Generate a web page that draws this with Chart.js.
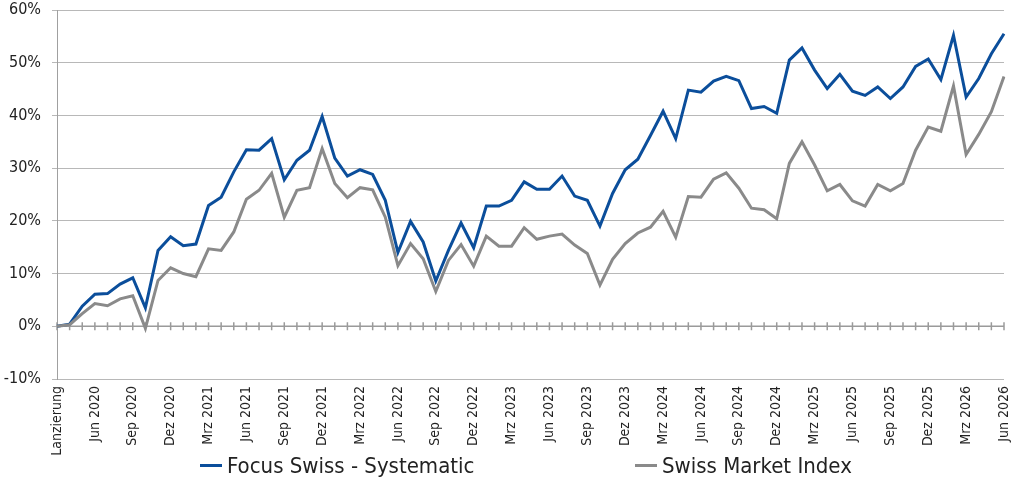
<!DOCTYPE html>
<html lang="de">
<head>
  <meta charset="UTF-8">
  <title>Focus Swiss - Systematic vs. SMI</title>
  <script src="https://cdn.jsdelivr.net/npm/chart.js"></script>
  <style>
    body {
      margin: 0;
      background: #fff;
      font-family: "Liberation Sans Narrow", "DejaVu Sans Condensed", sans-serif;
    }
    #wrap {
      position: relative;
      width: 1024px;
      height: 485px;
    }
    .legendItem {
      position: absolute;
      top: 453px;
      font-size: 22px;
      color: #222;
      white-space: nowrap;
      display: flex;
      align-items: center;
    }
    .legendItem span.sample {
      display: inline-block;
      width: 22px;
      height: 3px;
      margin-right: 5px;
    }
  </style>
</head>
<body>
  <div id="wrap">
    <canvas id="chart"></canvas>
    <div class="legendItem" id="leg0" style="left:200px"></div>
    <div class="legendItem" id="leg1" style="left:635px"></div>
  </div>

<script>
// Monatsenden ab Lancierung (Mrz 2020) bis Jun 2026
const months = [
  "Lanzierung", "Apr 2020", "Mai 2020", "Jun 2020", "Jul 2020", "Aug 2020", "Sep 2020", "Okt 2020", "Nov 2020", "Dez 2020",
  "Jan 2021", "Feb 2021", "Mrz 2021", "Apr 2021", "Mai 2021", "Jun 2021", "Jul 2021", "Aug 2021", "Sep 2021", "Okt 2021", "Nov 2021", "Dez 2021",
  "Jan 2022", "Feb 2022", "Mrz 2022", "Apr 2022", "Mai 2022", "Jun 2022", "Jul 2022", "Aug 2022", "Sep 2022", "Okt 2022", "Nov 2022", "Dez 2022",
  "Jan 2023", "Feb 2023", "Mrz 2023", "Apr 2023", "Mai 2023", "Jun 2023", "Jul 2023", "Aug 2023", "Sep 2023", "Okt 2023", "Nov 2023", "Dez 2023",
  "Jan 2024", "Feb 2024", "Mrz 2024", "Apr 2024", "Mai 2024", "Jun 2024", "Jul 2024", "Aug 2024", "Sep 2024", "Okt 2024", "Nov 2024", "Dez 2024",
  "Jan 2025", "Feb 2025", "Mrz 2025", "Apr 2025", "Mai 2025", "Jun 2025", "Jul 2025", "Aug 2025", "Sep 2025", "Okt 2025", "Nov 2025", "Dez 2025",
  "Jan 2026", "Feb 2026", "Mrz 2026", "Apr 2026", "Mai 2026", "Jun 2026"
];

const seriesNames = ["Focus Swiss - Systematic", "Swiss Market Index"];

// Performance in % seit Lancierung
const focusSwiss = [
  0, 0.4, 3.8, 6.1, 6.2, 8.0, 9.2, 3.5, 14.4, 17.0,
  15.3, 15.6, 22.9, 24.5, 29.3, 33.5, 33.4, 35.6, 27.8, 31.5, 33.4, 39.8,
  31.9, 28.5, 29.7, 28.8, 23.9, 14.0, 19.9, 16.0, 8.6, 14.4, 19.6, 14.9,
  22.8, 22.8, 23.9, 27.4, 26.0, 26.0, 28.5, 24.7, 23.9, 19.0, 25.2, 29.7,
  31.7, 36.2, 40.8, 35.6, 44.8, 44.4, 46.5, 47.4, 46.6, 41.3, 41.7, 40.4,
  50.5, 52.8, 48.6, 45.1, 47.8, 44.6, 43.8, 45.4, 43.2, 45.4, 49.3, 50.7,
  46.8, 55.2, 43.5, 47.0, 51.7, 55.5
];

const smi = [
  0, 0.3, 2.4, 4.3, 3.9, 5.2, 5.8, -0.4, 8.7, 11.1,
  10.0, 9.4, 14.7, 14.4, 17.9, 24.1, 25.8, 29.0, 20.7, 25.8, 26.3, 33.7,
  27.1, 24.4, 26.3, 25.9, 20.7, 11.5, 15.7, 12.8, 6.6, 12.5, 15.5, 11.4,
  17.1, 15.2, 15.2, 18.7, 16.5, 17.1, 17.5, 15.4, 13.8, 7.8, 12.7, 15.7,
  17.7, 18.8, 21.8, 16.9, 24.6, 24.5, 27.9, 29.1, 26.2, 22.4, 22.1, 20.4,
  30.9, 35.0, 30.6, 25.7, 26.9, 23.8, 22.8, 26.9, 25.7, 27.1, 33.4, 37.8,
  37.0, 45.6, 32.6, 36.4, 40.7, 47.4
];

const yTicks = [-10, 0, 10, 20, 30, 40, 50, 60];

const colors = ["#0b4e9b", "#8a8a8a"];
const fontFamily = '"Liberation Sans Narrow", "DejaVu Sans Condensed", sans-serif';

// Nulllinie mit Monatsstrichen
const zeroLinePlugin = {
  id: 'zeroLine',
  beforeDatasetsDraw(chart) {
    const { ctx, chartArea, scales } = chart;
    const y0 = scales.y.getPixelForValue(0);
    ctx.save();
    ctx.strokeStyle = '#9a9a9a';
    ctx.lineWidth = 1.5;
    ctx.beginPath();
    ctx.moveTo(chartArea.left, y0);
    ctx.lineTo(chartArea.right, y0);
    months.forEach((m, i) => {
      const x = scales.x.getPixelForValue(i);
      ctx.moveTo(x, y0 - 4);
      ctx.lineTo(x, y0 + 4);
    });
    ctx.stroke();
    ctx.restore();
  }
};

const ctx = document.getElementById('chart').getContext('2d');
new Chart(ctx, {
  type: 'line',
  data: {
    labels: months,
    datasets: [
      { label: seriesNames[0], data: focusSwiss, borderColor: colors[0], borderWidth: 3, pointRadius: 0, tension: 0 },
      { label: seriesNames[1], data: smi, borderColor: colors[1], borderWidth: 3, pointRadius: 0, tension: 0 }
    ].reverse()
  },
  options: {
    responsive: true,
    maintainAspectRatio: false,
    animation: false,
    layout: { padding: { top: 10, right: 20, left: 0, bottom: 26 } },
    plugins: {
      legend: { display: false },
      tooltip: { enabled: false }
    },
    scales: {
      x: {
        grid: { display: false, drawTicks: false },
        border: { display: false },
        afterFit: (axis) => {
          axis.height = 80;
          axis.paddingLeft = 0;
          axis.paddingRight = 0;
        },
        ticks: {
          autoSkip: false,
          maxRotation: 90,
          minRotation: 90,
          padding: 7,
          color: '#222',
          font: { family: fontFamily, size: 14 },
          callback: function (value, index) {
            return index % 3 === 0 ? months[index] : '';
          }
        }
      },
      y: {
        min: yTicks[0],
        max: yTicks[yTicks.length - 1],
        afterFit: (axis) => {
          axis.width = 57;
          axis.paddingTop = 0;
          axis.paddingBottom = 0;
        },
        afterBuildTicks: (axis) => { axis.ticks = yTicks.map(v => ({ value: v })); },
        grid: { color: '#b8b8b8', lineWidth: 1, tickLength: 5 },
        border: { color: '#a0a0a0', width: 1 },
        ticks: {
          padding: 11,
          color: '#222',
          font: { family: fontFamily, size: 16 },
          callback: (v) => v + '%'
        }
      }
    }
  },
  plugins: [zeroLinePlugin]
});

seriesNames.forEach((name, i) => {
  const el = document.getElementById('leg' + i);
  el.innerHTML = '<span class="sample" style="background:' + colors[i] + '"></span>' + name;
});
</script>
</body>
</html>
